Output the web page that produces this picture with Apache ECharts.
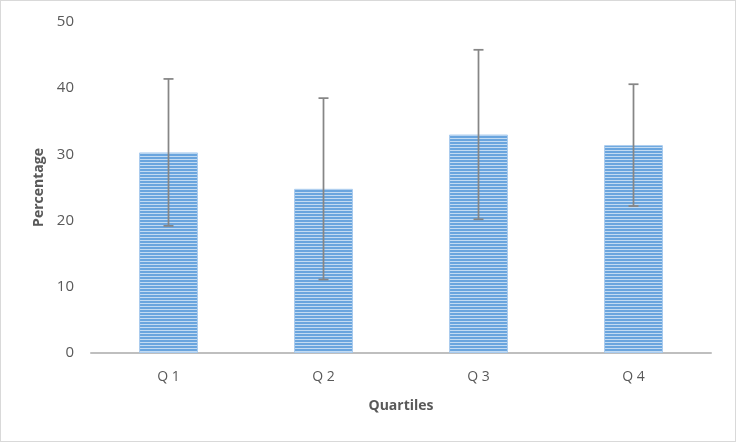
<!DOCTYPE html>
<html>
<head>
<meta charset="utf-8">
<script src="https://cdn.jsdelivr.net/npm/echarts@6/dist/echarts.min.js"></script>
<style>
html,body{margin:0;padding:0;background:#fff;}
#c{width:734px;height:440px;border:1px solid #d9d9d9;}
</style>
</head>
<body>
<div id="c"></div>
<script>
var categories = ['Q 1', 'Q 2', 'Q 3', 'Q 4'];
var values = [30.3, 24.8, 33.0, 31.4];
var errors = [11.1, 13.7, 12.8, 9.2];
var yTicks = [0, 10, 20, 30, 40, 50];

var pc = document.createElement('canvas');
pc.width = 4; pc.height = 3;
var g = pc.getContext('2d');
g.fillStyle = '#6aa5de'; g.fillRect(0, 0, 4, 3);
g.fillStyle = '#c3dbf2'; g.fillRect(0, 2, 4, 1);

var chart = echarts.init(document.getElementById('c'));
chart.setOption({
  animation: false,
  grid: {left: 90, right: 24, top: 21, bottom: 88},
  xAxis: {
    type: 'category', data: categories,
    axisLine: {lineStyle: {color: '#bfbfbf', width: 2}},
    axisTick: {show: false},
    axisLabel: {color: '#595959', fontSize: 14, margin: 17, fontFamily: 'Open Sans'},
    name: 'Quartiles', nameLocation: 'middle', nameGap: 46,
    nameTextStyle: {color: '#595959', fontSize: 14, fontWeight: 'bold', fontFamily: 'Open Sans'}
  },
  yAxis: {
    type: 'value', min: yTicks[0], max: yTicks[yTicks.length - 1], interval: 10,
    axisLine: {show: false}, axisTick: {show: false}, splitLine: {show: false},
    axisLabel: {color: '#595959', fontSize: 15, margin: 17, fontFamily: 'Open Sans'},
    name: 'Percentage', nameLocation: 'middle', nameGap: 42,
    nameTextStyle: {color: '#595959', fontSize: 14, fontWeight: 'bold', fontFamily: 'Open Sans'}
  },
  series: [
    {
      type: 'bar', data: values, barWidth: '38%',
      itemStyle: {color: {image: pc, repeat: 'repeat'}, borderColor: '#a9cbee', borderWidth: 1}
    },
    {
      type: 'custom',
      data: values.map(function (v, i) { return [i, v - errors[i], v + errors[i]]; }),
      renderItem: function (params, api) {
        var lo = api.coord([api.value(0), api.value(1)]);
        var hi = api.coord([api.value(0), api.value(2)]);
        var x = lo[0], w = 5;
        var st = {stroke: '#868686', lineWidth: 1.75};
        return {type: 'group', children: [
          {type: 'line', shape: {x1: x, y1: hi[1], x2: x, y2: lo[1]}, style: st},
          {type: 'line', shape: {x1: x - w, y1: hi[1], x2: x + w, y2: hi[1]}, style: st},
          {type: 'line', shape: {x1: x - w, y1: lo[1], x2: x + w, y2: lo[1]}, style: st}
        ]};
      },
      z: 5
    }
  ]
});
</script>
</body>
</html>
